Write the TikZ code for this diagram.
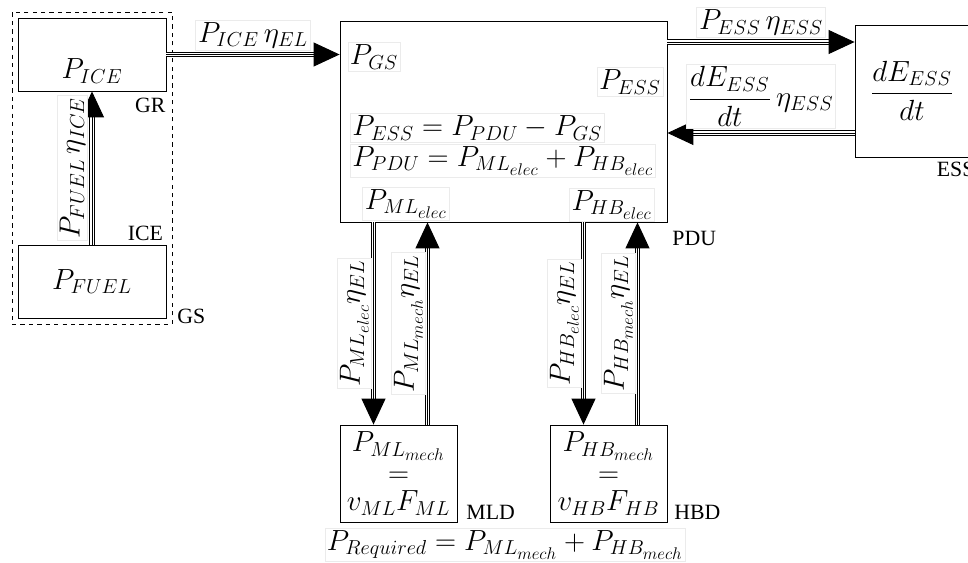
\documentclass[tikz,border=0pt]{standalone}
\usepackage[no-math]{fontspec}
\setmainfont{LiberationSerif}[Extension=.ttf,UprightFont=*-Regular,BoldFont=*-Bold]
\usetikzlibrary{arrows.meta,positioning,calc,fit}
\tikzset{
  blk/.style={draw,line width=0.6pt,inner sep=0pt,font=\huge},
  lbl/.style={draw=black!8,fill=white,inner sep=1.5pt,font=\huge},
  tag/.style={font=\fontsize{15.5}{18}\selectfont,inner sep=0.5pt},
  flow/.style={draw,line width=0.7pt,double=white,double distance=2.4pt,
    -{Triangle[length=6.5mm,width=6mm]},
    postaction={draw,-,line width=0.7pt,shorten >=3mm}}
}

\begin{document}
\begin{tikzpicture}[x=0.25mm,y=-0.25mm]
\useasboundingbox (0,0) rectangle (968,562);
% generator set
\node[blk,minimum width=37mm,minimum height=18.25mm] (ice) at (92,54.5) {};
\node[font=\huge] (pice) at (92,71) {$P_{ICE}$};
\node[blk,minimum width=37mm,minimum height=18.25mm] (fuel) at (92,281.5) {$P_{FUEL}$};
\node[draw,dashed,fit=(ice)(fuel),inner sep=1.4mm] (gs) {};
\node[tag,below left=1.5mm and 0mm of ice.south east] (grlbl) {GR};
\node[tag,above left=0.8mm and 0.6mm of fuel.north east] (icelbl) {ICE};
\node[tag,anchor=south west] (gslbl) at ([xshift=1mm]gs.south east) {GS};
% power distribution unit
\node[blk,minimum width=81.75mm,minimum height=50.25mm] (pdu) at (503.5,121.5) {};
\node[lbl] (pgs) at (374,57) {$P_{GS}$};
\node[lbl] (pess) at (630,82) {$P_{ESS}$};
\node[lbl,anchor=west] (eqess) at (350,128) {$P_{ESS} = P_{PDU} - P_{GS}$};
\node[lbl,anchor=west] (eqpdu) at (350,161) {$P_{PDU} = P_{ML_{elec}} + P_{HB_{elec}}$};
\node[lbl] (pmle) at (406,204) {$P_{ML_{elec}}$};
\node[lbl] (phbe) at (612,205) {$P_{HB_{elec}}$};
\node[tag,below right=2mm and 1mm of pdu.south east] (pdulbl) {PDU};
% storage
\node[blk,minimum width=28.5mm,minimum height=33mm] (ess) at (912,91) {$\displaystyle\frac{dE_{ESS}}{dt}$};
\node[tag,anchor=north east] (esslbl) at ([xshift=1.5mm,yshift=-1mm]ess.south east) {ESS};
% loads
\node[blk,minimum width=29.25mm,minimum height=24.25mm,align=center] (mld) at (398.5,473.5)
  {$P_{ML_{mech}}$\\[-3pt] $=$\\[-5pt] $v_{ML}F_{ML}$};
\node[blk,minimum width=29.25mm,minimum height=24.25mm,align=center] (hbd) at (608.5,473.5)
  {$P_{HB_{mech}}$\\[-3pt] $=$\\[-5pt] $v_{HB}F_{HB}$};
\node[tag,anchor=south west] (mldlbl) at ([xshift=2mm,yshift=0.5mm]mld.south east) {MLD};
\node[tag,anchor=south west] (hbdlbl) at ([xshift=1.5mm,yshift=0.5mm]hbd.south east) {HBD};
\node[lbl] (preq) at (505,545) {$P_{Required} = P_{ML_{mech}} + P_{HB_{mech}}$};
% power flows
\draw[flow] (fuel) -- (ice)
  node[lbl,midway,rotate=90,anchor=south,yshift=1mm] {$P_{FUEL}\,\eta_{ICE}$};
\draw[flow] (ice.east) -- (ice.east -| pdu.west)
  node[lbl,midway,above,yshift=1mm] {$P_{ICE}\,\eta_{EL}$};
\coordinate (essin) at ($(ess.west)+(0,-49)$);
\coordinate (essout) at ($(ess.west)+(0,42)$);
\draw[flow] (essin -| pdu.east) -- (essin)
  node[lbl,midway,above,yshift=1mm] {$P_{ESS}\,\eta_{ESS}$};
\draw[flow] (essout) -- (essout -| pdu.east)
  node[lbl,midway,above,yshift=1mm] {$\displaystyle\frac{dE_{ESS}}{dt}\,\eta_{ESS}$};
\coordinate (mla) at ($(mld.north)+(-25,0)$);
\coordinate (mlb) at ($(mld.north)+(29,0)$);
\coordinate (hba) at ($(hbd.north)+(-25,0)$);
\coordinate (hbb) at ($(hbd.north)+(29,0)$);
\draw[flow] (mla |- pdu.south) -- (mla)
  node[lbl,midway,rotate=90,anchor=south,yshift=0.5mm] {$P_{ML_{elec}}\eta_{EL}$};
\draw[flow] (mlb) -- (mlb |- pdu.south)
  node[lbl,midway,rotate=90,anchor=south,yshift=0.5mm] {$P_{ML_{mech}}\eta_{EL}$};
\draw[flow] (hba |- pdu.south) -- (hba)
  node[lbl,midway,rotate=90,anchor=south,yshift=0.5mm] {$P_{HB_{elec}}\eta_{EL}$};
\draw[flow] (hbb) -- (hbb |- pdu.south)
  node[lbl,midway,rotate=90,anchor=south,yshift=0.5mm] {$P_{HB_{mech}}\eta_{EL}$};
\end{tikzpicture}
\end{document}
